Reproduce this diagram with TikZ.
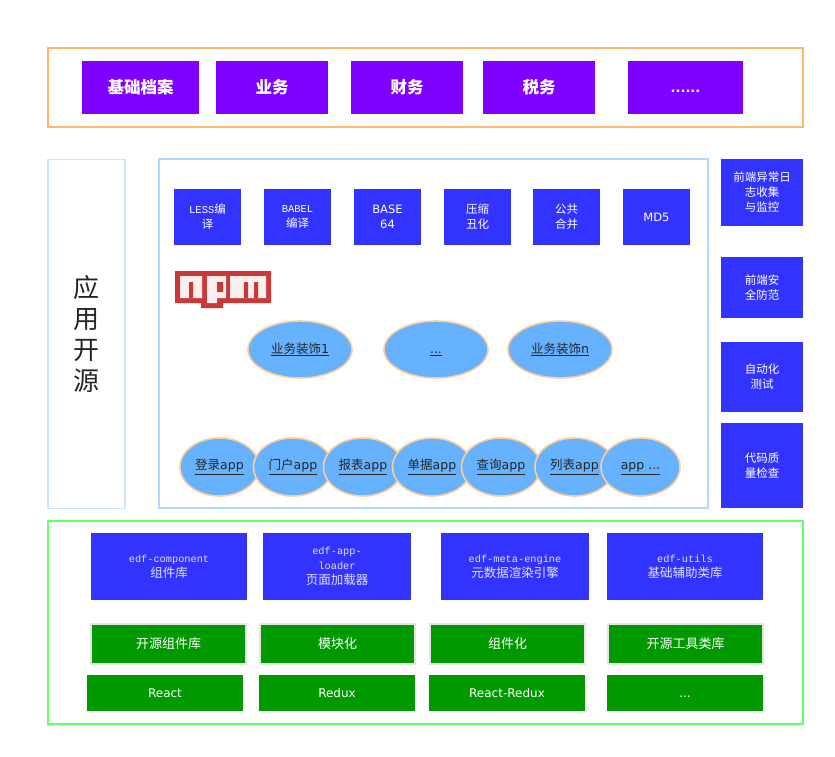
\documentclass[tikz,border=0pt]{standalone}
\usepackage{fontspec}
\usepackage{xcolor}
\setmainfont{DejaVu Sans}
\newfontfamily\cjk{Noto Sans CJK SC}
\newfontfamily\monof{Liberation Mono}
\definecolor{boxpurple}{HTML}{7F00FF}
\definecolor{boxblue}{HTML}{3333FF}
\definecolor{boxgreen}{HTML}{009900}
\definecolor{ovalblue}{HTML}{66B2FF}
\definecolor{ovalline}{HTML}{FFCC99}
\definecolor{lineorange}{HTML}{FFB870}
\definecolor{linegreen}{HTML}{66FF66}
\definecolor{lineblue}{HTML}{B3D9FF}
\definecolor{linepale}{HTML}{CCE5FF}
\definecolor{npmred}{HTML}{CB3837}
\newcommand{\zh}[1]{{\cjk #1}}
\newcommand{\bigzh}[1]{{\cjk\fontsize{12.5}{15}\selectfont #1}}
\tikzset{
  panel/.style={draw=#1,line width=1.3pt,fill=white,inner sep=0pt},
  purplebox/.style={fill=boxpurple,text=white,font=\fontsize{16.5}{18}\selectfont\bfseries,inner sep=0pt,align=center},
  bluebox/.style={fill=boxblue,text=white,font=\fontsize{11.5}{15}\selectfont,inner sep=0pt,align=center},
  codebox/.style={bluebox,font=\fontsize{10.3}{15}\selectfont\monof,text=white!85!boxblue},
  greenbox/.style={fill=boxgreen,text=white,font=\fontsize{12}{15}\selectfont,inner sep=0pt,align=center},
  grayedge/.style={greenbox,draw=black!10,line width=1.5pt},
  oval/.style={ellipse,fill=ovalblue,draw=ovalline,line width=1.6pt,inner sep=0pt,text=black!85,font=\fontsize{12.5}{15}\selectfont}
}
\usetikzlibrary{shapes.geometric}
\begin{document}
\begin{tikzpicture}[x=1pt,y=-1pt]
  \useasboundingbox (0,0) rectangle (835,756);
  % outer panels
  \node[panel=lineorange,minimum width=755pt,minimum height=79pt] (toppanel) at (425.5,87.5) {};
  \node[panel=linepale,minimum width=77pt,minimum height=349pt,font=\fontsize{26}{31}\selectfont\cjk,align=center,text=black!85] (appopen) at (86.5,334) {应\\用\\开\\源};
  \node[panel=lineblue,minimum width=549pt,minimum height=349pt] (midpanel) at (433.5,333.5) {};
  \node[panel=linegreen,minimum width=755pt,minimum height=203pt] (botpanel) at (425.5,622.5) {};
  % top row
  \node[purplebox,minimum width=117pt,minimum height=53pt] (archive) at (140.5,87.5) {\zh{基础档案}};
  \node[purplebox,minimum width=112pt,minimum height=53pt] (business) at (272,87.5) {\zh{业务}};
  \node[purplebox,minimum width=112pt,minimum height=53pt] (finance) at (407,87.5) {\zh{财务}};
  \node[purplebox,minimum width=112pt,minimum height=53pt] (tax) at (539,87.5) {\zh{税务}};
  \node[purplebox,minimum width=115pt,minimum height=53pt,font=\fontsize{13}{18}\selectfont\bfseries] (moretop) at (685.5,87.5) {\vphantom{A}......};
  % tool row
  \node[bluebox,minimum width=67pt,minimum height=56pt] (less) at (207.5,217) {{\monof\fontsize{10.5}{15}\selectfont LESS}\zh{编}\\\zh{译}};
  \node[bluebox,minimum width=67pt,minimum height=56pt] (babel) at (297.5,217) {{\monof\fontsize{10.5}{15}\selectfont BABEL}\\\zh{编译}};
  \node[bluebox,minimum width=67pt,minimum height=56pt] (base) at (387.5,217) {BASE\\64};
  \node[bluebox,minimum width=67pt,minimum height=56pt] (uglify) at (477.5,217) {\zh{压缩}\\\zh{丑化}};
  \node[bluebox,minimum width=67pt,minimum height=56pt] (merge) at (566.5,217) {\zh{公共}\\\zh{合并}};
  \node[bluebox,minimum width=67pt,minimum height=56pt] (mdfive) at (656.5,217) {MD5};
  % npm logo
  \fill[npmred] (175,271) rectangle (271,303) (201,303) rectangle (223,308);
  \fill[white!92!npmred] (180,276) rectangle (202,298) (207,276) rectangle (226,298)
    (207,298) rectangle (217,303) (230,276) rectangle (266,298);
  \fill[npmred] (189,282) rectangle (193,298) (217,282) rectangle (223,292)
    (244,282) rectangle (248,298) (254,282) rectangle (258,298);
  % decorators
  \node[oval,minimum width=104pt,minimum height=57pt] (decoone) at (300,349.5) {\underline{\zh{业务装饰}1}};
  \node[oval,minimum width=104pt,minimum height=57pt] (decodots) at (436,349.5) {\underline{\vphantom{\zh{业}}...}};
  \node[oval,minimum width=104pt,minimum height=57pt] (decon) at (560,349.5) {\underline{\zh{业务装饰}n}};
  % apps
  \node[oval,minimum width=79pt,minimum height=58pt] (login) at (219.5,467) {\underline{\zh{登录}app}};
  \node[oval,minimum width=79pt,minimum height=58pt] (portal) at (293,467) {\underline{\zh{门户}app}};
  \node[oval,minimum width=79pt,minimum height=58pt] (report) at (363,467) {\underline{\zh{报表}app}};
  \node[oval,minimum width=79pt,minimum height=58pt] (bill) at (432,467) {\underline{\zh{单据}app}};
  \node[oval,minimum width=79pt,minimum height=58pt] (query) at (501,467) {\underline{\zh{查询}app}};
  \node[oval,minimum width=79pt,minimum height=58pt] (listapp) at (574.5,467) {\underline{\zh{列表}app}};
  \node[oval,minimum width=79pt,minimum height=58pt] (moreapp) at (640.5,467) {\underline{\vphantom{\zh{业}}app ...}};
  % right column
  \node[bluebox,minimum width=82pt,minimum height=67pt] (monitor) at (762,192.5) {\zh{前端异常日}\\\zh{志收集}\\\zh{与监控}};
  \node[bluebox,minimum width=82pt,minimum height=61pt] (security) at (762,287.5) {\zh{前端安}\\\zh{全防范}};
  \node[bluebox,minimum width=82pt,minimum height=70pt] (autotest) at (762,377) {\zh{自动化}\\\zh{测试}};
  \node[bluebox,minimum width=82pt,minimum height=85pt] (quality) at (762,465.5) {\zh{代码质}\\\zh{量检查}};
  % edf row
  \node[codebox,minimum width=156pt,minimum height=67pt] (component) at (169,566.5) {edf-component\\\bigzh{组件库}};
  \node[codebox,minimum width=148pt,minimum height=67pt] (loader) at (337,566.5) {edf-app-\\loader\\\bigzh{页面加载器}};
  \node[codebox,minimum width=148pt,minimum height=67pt] (metaengine) at (515,566.5) {edf-meta-engine\\\bigzh{元数据渲染引擎}};
  \node[codebox,minimum width=156pt,minimum height=67pt] (utils) at (685,566.5) {edf-utils\\\bigzh{基础辅助类库}};
  % green rows
  \node[grayedge,minimum width=155pt,minimum height=40pt,font=\fontsize{13}{15}\selectfont] (openlib) at (168.5,644) {\zh{开源组件库}};
  \node[grayedge,minimum width=155pt,minimum height=40pt,font=\fontsize{13}{15}\selectfont] (modular) at (337.5,644) {\zh{模块化}};
  \node[grayedge,minimum width=155pt,minimum height=40pt,font=\fontsize{13}{15}\selectfont] (componentize) at (507.5,644) {\zh{组件化}};
  \node[grayedge,minimum width=155pt,minimum height=40pt,font=\fontsize{13}{15}\selectfont] (opentools) at (685.5,644) {\zh{开源工具类库}};
  \node[greenbox,minimum width=156pt,minimum height=36pt] (react) at (165,693) {React};
  \node[greenbox,minimum width=156pt,minimum height=36pt] (redux) at (337,693) {Redux};
  \node[greenbox,minimum width=156pt,minimum height=36pt] (reactredux) at (507,693) {React-Redux};
  \node[greenbox,minimum width=156pt,minimum height=36pt] (moregreen) at (685,693) {\vphantom{A}...};
\end{tikzpicture}
\end{document}
